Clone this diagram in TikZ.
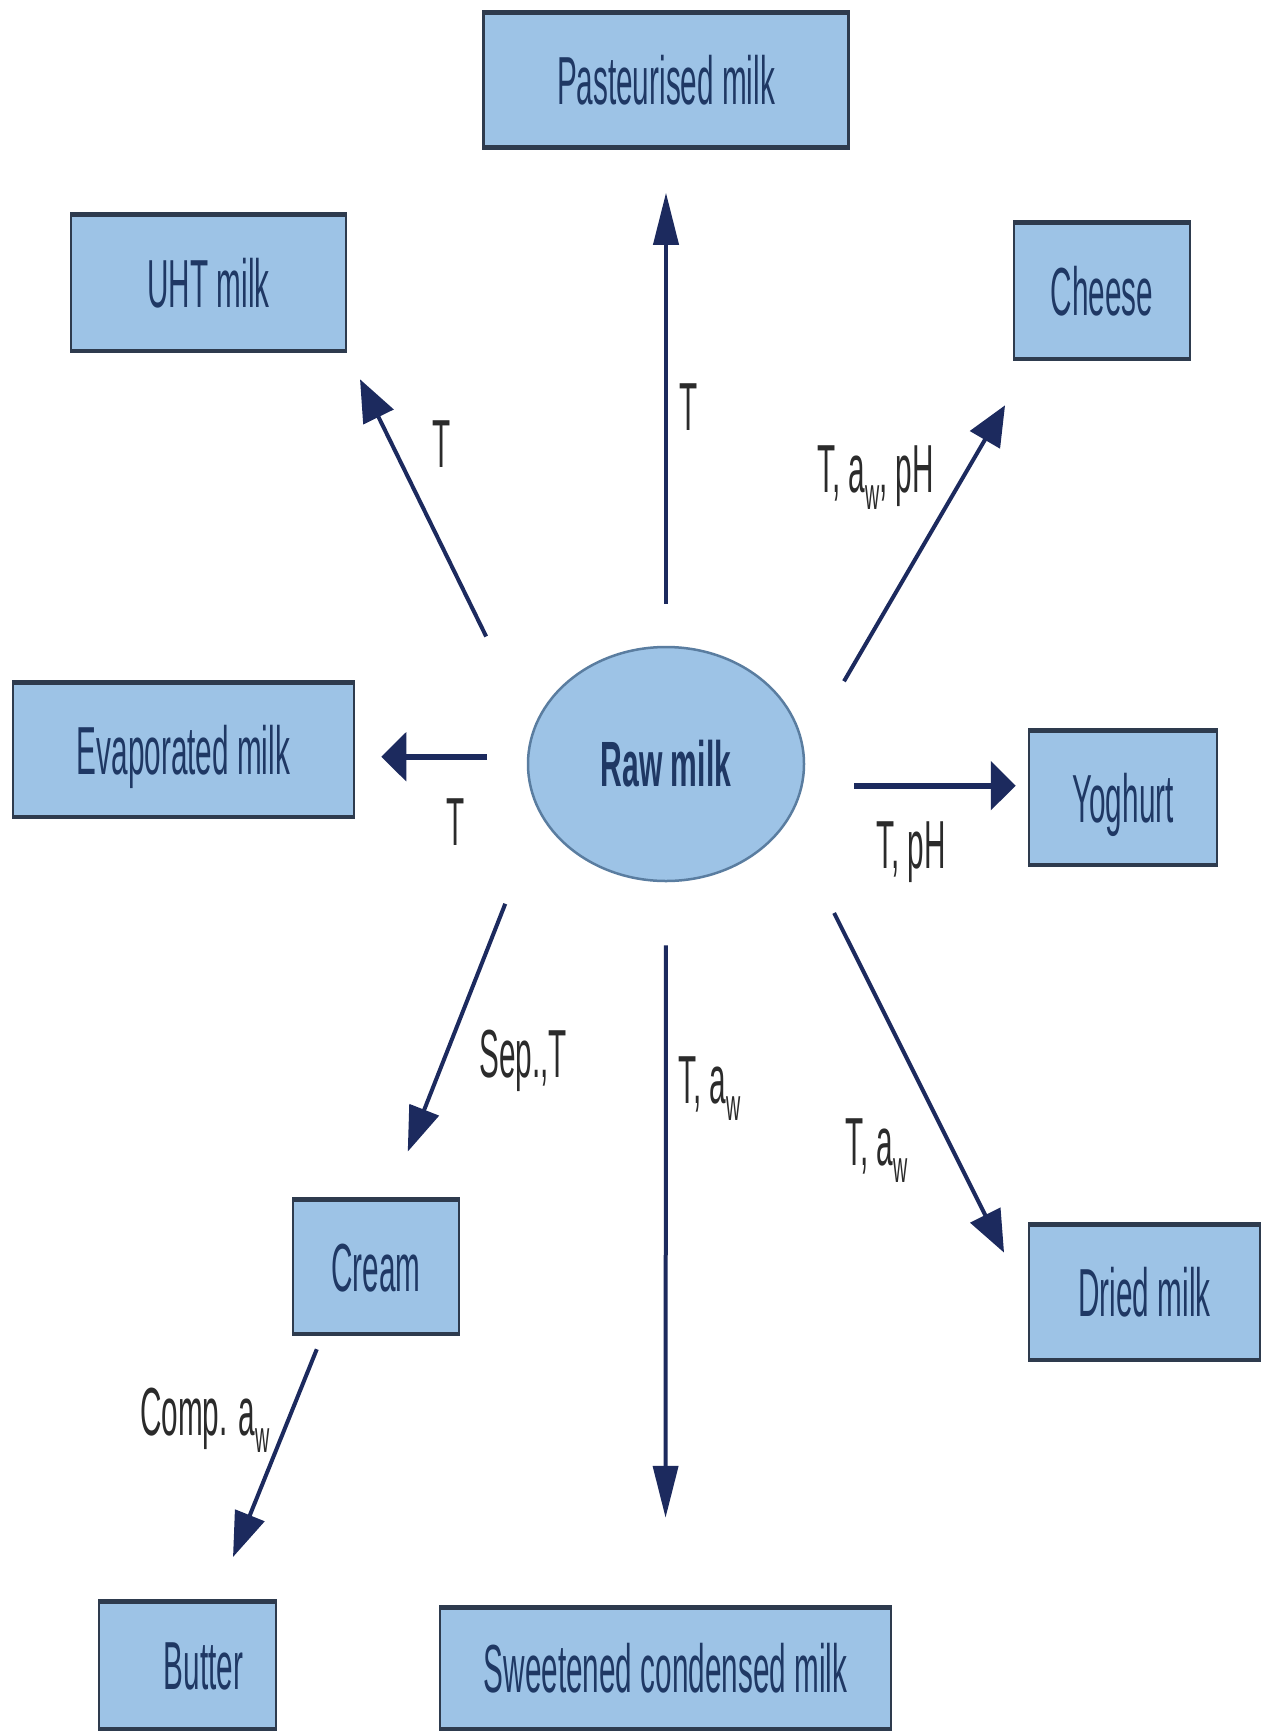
\documentclass[tikz,border=0pt]{standalone}
\usepackage{fontspec}
\setmainfont{Liberation Sans}
\newfontfamily\condfont[FakeStretch=0.437]{Liberation Sans}
\newfontfamily\rawfont[FakeStretch=0.47]{Liberation Sans}
\usetikzlibrary{arrows.meta,shapes.geometric}
\definecolor{boxfill}{HTML}{9DC3E6}
\definecolor{boxline}{HTML}{2E3B4E}
\definecolor{boxtext}{HTML}{1F3864}
\definecolor{arrowcol}{HTML}{1C2A5E}
\definecolor{labeltext}{HTML}{2B2B2B}
\definecolor{ellline}{HTML}{5A7DA0}
\newcommand\aw{a\raisebox{-17pt}{\fontsize{45}{45}\selectfont w}}
\begin{document}
\begin{tikzpicture}[x=1pt,y=-1pt,
  prod/.style={rectangle, fill=boxfill, draw=boxline, line width=2.5pt, inner sep=0pt,
    font=\condfont\fontsize{68}{68}\selectfont, text=boxtext, text height=49pt, text depth=0pt,
    path picture={\draw[boxline, line width=7pt]
      (path picture bounding box.north west) -- (path picture bounding box.north east)
      (path picture bounding box.south west) -- (path picture bounding box.south east);}},
  rawnode/.style={ellipse, fill=boxfill, draw=ellline, line width=2.5pt, inner sep=0pt,
    minimum width=276pt, minimum height=234pt,
    font=\rawfont\bfseries\fontsize{64}{64}\selectfont, text=boxtext},
  conn/.style={draw=arrowcol, line width=4pt},
  connh/.style={draw=arrowcol, line width=6pt},
  lab/.style={font=\condfont\fontsize{68}{68}\selectfont, text=labeltext, inner sep=0pt}
]
\useasboundingbox (0,0) rectangle (1263,1732);
\fill[white] (0,0) rectangle (1263,1732);

% nodes
\node[prod, minimum width=365pt, minimum height=137pt] (past) at (666,80) {Pasteurised milk};
\node[prod, minimum width=275pt, minimum height=139pt] (uht) at (208.5,282.5) {UHT milk};
\node[prod, minimum width=176pt, minimum height=139pt] (cheese) at (1102,290.5) {Cheese};
\node[prod, minimum width=341pt, minimum height=137pt] (evap) at (183.5,749.5) {Evaporated milk};
\node[rawnode] (raw) at (666,764) {Raw milk};
\node[prod, minimum width=188pt, minimum height=137pt] (yog) at (1123,797.5) {Yoghurt};
\node[prod, minimum width=166pt, minimum height=137pt] (cream) at (376,1266.5) {Cream};
\node[prod, minimum width=231pt, minimum height=138pt] (dried) at (1144.5,1292) {Dried milk};
\node[prod, minimum width=177pt, minimum height=130pt] (butter) at (187.5,1665) {\hspace*{32pt}Butter};
\node[prod, minimum width=451pt, minimum height=124pt] (sweet) at (665.5,1668) {Sweetened condensed milk};

% connectors
\draw[conn, -{Triangle[length=52pt,width=25pt]}, shorten <=42pt, shorten >=43pt] (raw.north) -- (past.south);
\draw[conn, -{Triangle[length=42pt,width=33pt]}, shorten <=105pt, shorten >=29pt] (raw.166.5) -- (uht.south east);
\draw[conn, -{Triangle[length=40pt,width=34pt]}, shorten <=79pt, shorten >=51pt] (raw.6.5) -- ([xshift=18pt]cheese.south west);
\draw[connh, -{Triangle[length=25pt,width=48pt]}, shorten <=40pt, shorten >=26pt] (raw.177.1) -- (raw.177.1 -| evap.east);
\draw[connh, -{Triangle[length=25pt,width=48pt]}, shorten <=51.5pt, shorten >=12pt] (raw.-9.2) -- (raw.-9.2 -| yog.west);
\draw[conn, -{Triangle[length=45pt,width=31pt]}, shorten <=95.6pt, shorten >=48.5pt] (raw.202.9) -- ([xshift=14pt]cream.north);
\draw[conn, -{Triangle[length=52pt,width=25pt]}, shorten <=63pt, shorten >=87pt] (raw.south) -- (sweet.north);
\draw[conn, -{Triangle[length=42pt,width=33pt]}, shorten <=103pt, shorten >=53pt] (raw.-25.4) -- ([yshift=-8pt]dried.west);
\draw[conn, -{Triangle[length=45pt,width=31pt]}, shorten <=14pt, shorten >=45pt] ([xshift=-54pt]cream.south) -- ([xshift=28.7pt]butter.north);

% labels
\node[lab, anchor=base west] (l1) at (679,430) {T};
\node[lab, anchor=base west] (l2) at (432,467) {T};
\node[lab, anchor=base west] (l3) at (817,492) {T, \aw, pH};
\node[lab, anchor=base] (l4) at (456,845) {T};
\node[lab, anchor=base west] (l5) at (876,868) {T, pH};
\node[lab, anchor=base west] (l6) at (479,1077) {Sep.,T};
\node[lab, anchor=base west] (l7) at (678,1103) {T, \aw};
\node[lab, anchor=base west] (l8) at (845,1165) {T, \aw};
\node[lab, anchor=base west] (l9) at (140,1435) {Comp. \aw};
\end{tikzpicture}
\end{document}
